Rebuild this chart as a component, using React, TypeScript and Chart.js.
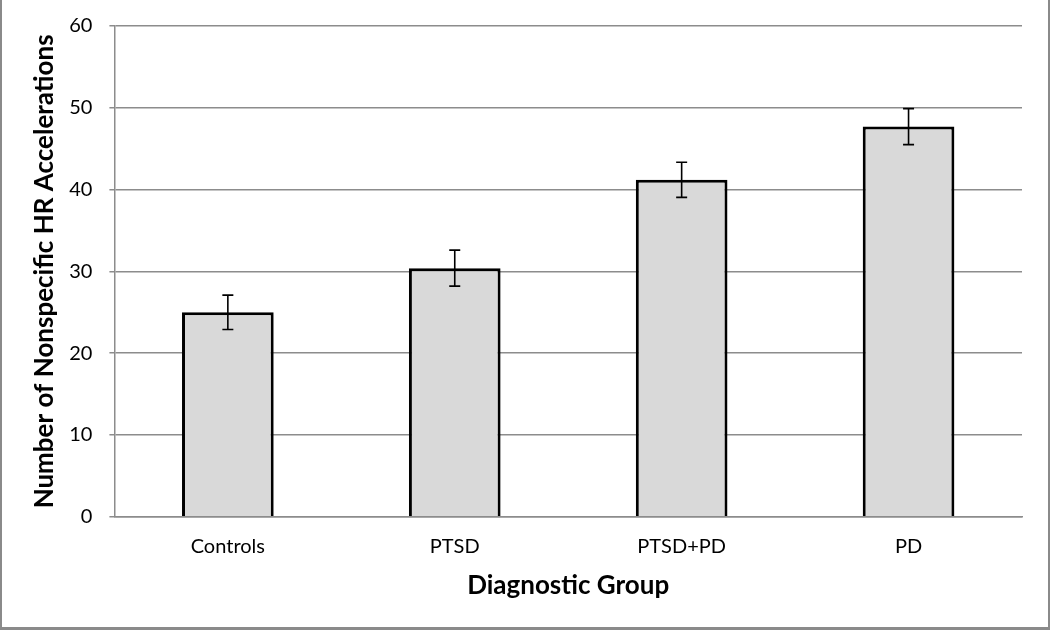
import React, { useEffect, useRef } from "react";
import { Chart, registerables } from "chart.js";

Chart.register(...registerables);

const categories: string[] = ["Controls", "PTSD", "PTSD+PD", "PD"];
const means: number[] = [25.0, 30.4, 41.2, 47.7];
const errors: number[] = [2.1, 2.2, 2.15, 2.2];
const yTicks: number[] = [0, 10, 20, 30, 40, 50, 60];
const yTitle = "Number of Nonspecific HR Accelerations";
const xTitle = "Diagnostic Group";

const FONT = "Lato, Carlito, 'Open Sans', sans-serif";

const errorBarPlugin = {
  id: "errorBars",
  afterDatasetsDraw(chart: any) {
    const ctx = chart.ctx;
    const meta = chart.getDatasetMeta(0);
    const y = chart.scales.y;
    ctx.save();
    ctx.strokeStyle = "#000000";
    ctx.lineWidth = 1.6;
    meta.data.forEach((bar: any, i: number) => {
      const x = bar.x;
      const top = y.getPixelForValue(means[i] + errors[i]);
      const bot = y.getPixelForValue(means[i] - errors[i]);
      const cap = 5.5;
      ctx.beginPath();
      ctx.moveTo(x, top);
      ctx.lineTo(x, bot);
      ctx.moveTo(x - cap, top);
      ctx.lineTo(x + cap, top);
      ctx.moveTo(x - cap, bot);
      ctx.lineTo(x + cap, bot);
      ctx.stroke();
    });
    ctx.restore();
  },
};

export default function App() {
  const ref = useRef<HTMLCanvasElement | null>(null);

  useEffect(() => {
    document.body.style.margin = "0";
    if (!ref.current) return;
    const chart = new Chart(ref.current, {
      type: "bar",
      data: {
        labels: categories,
        datasets: [
          {
            data: means,
            backgroundColor: "#d9d9d9",
            borderColor: "#000000",
            borderWidth: 3,
            categoryPercentage: 0.8,
            barPercentage: 0.505,
          },
        ],
      },
      options: {
        animation: false,
        responsive: false,
        maintainAspectRatio: false,
        layout: { padding: { top: 26, right: 26, left: 27, bottom: 26 } },
        plugins: {
          legend: { display: false },
          tooltip: { enabled: false },
        },
        scales: {
          x: {
            grid: { display: false, drawTicks: false },
            border: { display: true, color: "#8c8c8c", width: 1.5 },
            ticks: {
              color: "#000000",
              padding: 18,
              font: { family: FONT, size: 20 },
            },
            title: {
              display: true,
              text: xTitle,
              color: "#000000",
              font: { family: FONT, size: 26, weight: "bold" },
              padding: { top: -7, bottom: 0 },
            },
          },
          y: {
            min: 0,
            max: 60,
            afterBuildTicks: (axis: any) => {
              axis.ticks = yTicks.map((v) => ({ value: v }));
            },
            afterFit: (axis: any) => {
              axis.paddingTop = 0;
              axis.paddingBottom = 0;
            },
            grid: {
              color: "#8c8c8c",
              lineWidth: 1.5,
              tickLength: 5,
            },
            border: { display: true, color: "#8c8c8c", width: 1.5 },
            ticks: {
              color: "#000000",
              padding: 17,
              font: { family: FONT, size: 20 },
            },
            title: {
              display: true,
              text: yTitle,
              color: "#000000",
              font: { family: FONT, size: 26, weight: "bold" },
              padding: { top: 0, bottom: -8 },
            },
          },
        },
      },
      plugins: [errorBarPlugin],
    });
    return () => chart.destroy();
  }, []);

  return (
    <div
      style={{
        position: "relative",
        width: 1050,
        height: 630,
        boxSizing: "border-box",
        borderLeft: "2px solid #8a8a8a",
        borderRight: "2px solid #8a8a8a",
        borderBottom: "3px solid #8a8a8a",
        background: "#ffffff",
      }}
    >
      <canvas
        ref={ref}
        width={1046}
        height={627}
        style={{ display: "block", width: 1046, height: 627 }}
      />
    </div>
  );
}
